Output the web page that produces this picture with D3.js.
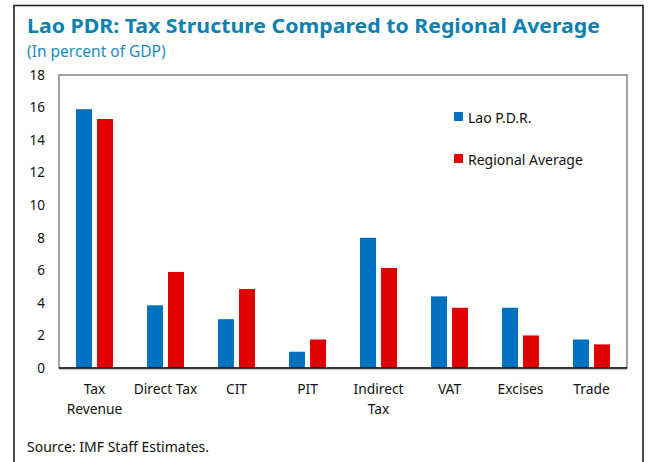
<!DOCTYPE html>
<html>
<head>
<meta charset="utf-8">
<script src="https://cdn.jsdelivr.net/npm/d3@7"></script>
<style>
  body { margin: 0; background: #fff; }
  svg { display: block; font-family: "Noto Sans", "Open Sans", sans-serif; }
</style>
</head>
<body>
<div id="chart"></div>
<script>
// chart data
const categories = [["Tax", "Revenue"], ["Direct Tax"], ["CIT"], ["PIT"], ["Indirect", "Tax"], ["VAT"], ["Excises"], ["Trade"]];
const seriesNames = ["Lao P.D.R.", "Regional Average"];
const laoValues = [15.9, 3.85, 3.0, 1.0, 8.0, 4.4, 3.7, 1.75];
const regionalValues = [15.3, 5.9, 4.85, 1.75, 6.15, 3.7, 2.0, 1.45];
const yTicks = [0, 2, 4, 6, 8, 10, 12, 14, 16, 18];
const colors = ["#0070c0", "#e00000"];

const width = 651;
const height = 462;
const plot = { left: 59, right: 627, top: 75, bottom: 368 };

const svg = d3.select("#chart")
  .append("svg")
  .attr("width", width)
  .attr("height", height);

// outer border
svg.append("rect")
  .attr("x", 14)
  .attr("y", 5.5)
  .attr("width", 629)
  .attr("height", 470)
  .attr("fill", "none")
  .attr("stroke", "#222")
  .attr("stroke-width", 1.6);

// title
const title = svg.append("text")
  .attr("x", 27)
  .attr("y", 33)
  .attr("fill", "#0b81b0")
  .style("font-size", "20px")
  .style("font-weight", "bold")
  .text("Lao PDR: Tax Structure Compared to Regional Average");
title.attr("textLength", 573).attr("lengthAdjust", "spacingAndGlyphs");

svg.append("text")
  .attr("x", 27)
  .attr("y", 57)
  .attr("fill", "#1a8cc0")
  .style("font-size", "15.5px")
  .text("(In percent of GDP)");

// scales
const x0 = d3.scaleBand()
  .domain(d3.range(categories.length))
  .range([plot.left, plot.right]);

const y = d3.scaleLinear()
  .domain([0, 18])
  .range([plot.bottom, plot.top]);

const barW = 16;
const gap = 5;

// plot frame
svg.append("rect")
  .attr("x", plot.left)
  .attr("y", plot.top)
  .attr("width", plot.right - plot.left)
  .attr("height", plot.bottom - plot.top)
  .attr("fill", "none")
  .attr("stroke", "#444")
  .attr("stroke-width", 1);

// y tick labels
const yAxis = d3.axisLeft(y).tickValues(yTicks).tickSize(0).tickPadding(14);
const gy = svg.append("g")
  .attr("transform", `translate(${plot.left},0)`)
  .call(yAxis);
gy.select(".domain").remove();
gy.selectAll("text")
  .style("font-size", "13.5px")
  .style("font-family", "Noto Sans, sans-serif")
  .attr("fill", "#111");

// bars
const series = [laoValues, regionalValues];
series.forEach((vals, si) => {
  svg.append("g")
    .selectAll("rect")
    .data(vals)
    .enter()
    .append("rect")
    .attr("x", (d, i) => {
      const c = x0(i) + x0.bandwidth() / 2;
      return si === 0 ? c - gap / 2 - barW : c + gap / 2;
    })
    .attr("y", (d) => y(d))
    .attr("width", barW)
    .attr("height", (d) => y(0) - y(d))
    .attr("fill", colors[si]);
});

// bottom axis line
svg.append("line")
  .attr("x1", plot.left)
  .attr("x2", plot.right)
  .attr("y1", plot.bottom + 1.5)
  .attr("y2", plot.bottom + 1.5)
  .attr("stroke", "#ccc")
  .attr("stroke-width", 1.5);
svg.append("line")
  .attr("x1", plot.left)
  .attr("x2", plot.right)
  .attr("y1", plot.bottom)
  .attr("y2", plot.bottom)
  .attr("stroke", "#111")
  .attr("stroke-width", 1.6);

// category labels
const labels = svg.append("g")
  .selectAll("text")
  .data(categories)
  .enter()
  .append("text")
  .attr("x", (d, i) => x0(i) + x0.bandwidth() / 2)
  .attr("y", 394)
  .attr("text-anchor", "middle")
  .attr("fill", "#111")
  .style("font-size", "13.8px");
labels.selectAll("tspan")
  .data((d) => d)
  .enter()
  .append("tspan")
  .attr("x", function () { return this.parentNode.getAttribute("x"); })
  .attr("dy", (d, i) => (i === 0 ? 0 : 20))
  .text((d) => d);

// legend
const legend = svg.append("g")
  .selectAll("g")
  .data(seriesNames)
  .enter()
  .append("g")
  .attr("transform", (d, i) => `translate(454, ${112 + i * 42})`);
legend.append("rect")
  .attr("width", 9)
  .attr("height", 9)
  .attr("fill", (d, i) => colors[i]);
legend.append("text")
  .attr("x", 14)
  .attr("y", 10.5)
  .attr("fill", "#111")
  .style("font-size", "14px")
  .text((d) => d);

// source note
svg.append("text")
  .attr("x", 27)
  .attr("y", 452)
  .attr("fill", "#111")
  .style("font-size", "14px")
  .text("Source: IMF Staff Estimates.");
</script>
</body>
</html>
